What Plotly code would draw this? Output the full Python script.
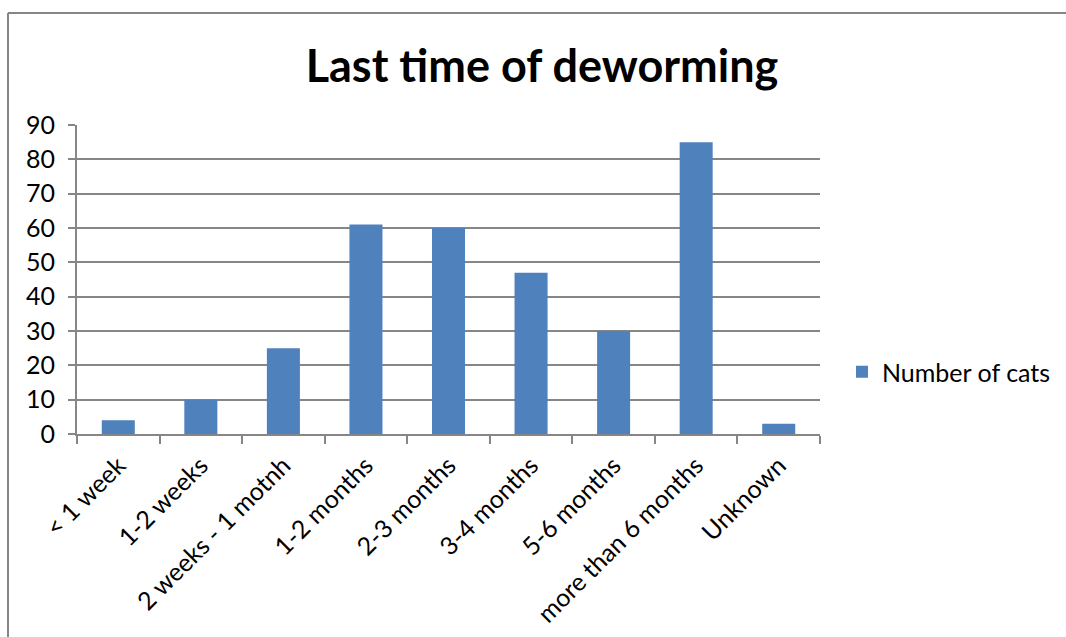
import plotly.graph_objects as go

categories = ["< 1 week", "1-2 weeks", "2 weeks - 1 motnh", "1-2 months", "2-3 months",
              "3-4 months", "5-6 months", "more than 6 months", "Unknown"]
values = [4, 10, 25, 61, 60, 47, 30, 85, 3]
series_name = "Number of cats"
title_text = "Last time of deworming"

W, H = 1066, 637
L, R, T, B = 77, 820, 125, 434
pw, ph = R - L, B - T

fig = go.Figure()
fig.add_trace(go.Bar(x=categories, y=values, name=series_name,
                     marker=dict(color="#4F81BD", line=dict(width=0))))

grid = "#868686"
font_family = "Lato, Open Sans, sans-serif"

fig.update_layout(
    width=W, height=H,
    margin=dict(l=L, r=W - R, t=T, b=H - B),
    paper_bgcolor="white", plot_bgcolor="white",
    font=dict(family=font_family, size=25, color="black"),
    bargap=0.6,
    showlegend=True,
    title=dict(text="<b>" + title_text + "</b>", x=542 / W, xref="container", xanchor="center",
               y=1 - 66 / H, yref="container", yanchor="middle",
               font=dict(size=45, family=font_family, color="black")),
    legend=dict(x=842 / W, y=1 - 372 / H, xref="container", yref="container",
                xanchor="left", yanchor="middle",
                font=dict(size=25), bgcolor="rgba(0,0,0,0)", itemwidth=30),
    xaxis=dict(type="category", tickangle=-45, showline=True, linecolor=grid, linewidth=2,
               ticks="outside", tickson="boundaries", ticklen=8, tickcolor=grid, tickwidth=2,
               ticklabelstandoff=5,
               showgrid=False, tickfont=dict(size=25), automargin=False),
    yaxis=dict(range=[0, 90], dtick=10, showline=True, linecolor=grid, linewidth=2,
               ticks="outside", ticklen=7, tickcolor=grid, tickwidth=2, ticklabelstandoff=8,
               showgrid=True, gridcolor=grid, gridwidth=2, zeroline=False,
               tickfont=dict(size=25), automargin=False),
)

bx = (8 - L) / pw
by = (B - 13) / ph
fig.add_shape(type="line", xref="paper", yref="paper", x0=bx, x1=bx, y0=-2, y1=by,
              line=dict(color=grid, width=2))
fig.add_shape(type="line", xref="paper", yref="paper", x0=bx, x1=2, y0=by, y1=by,
              line=dict(color=grid, width=2))

fig.write_html("out.html")
